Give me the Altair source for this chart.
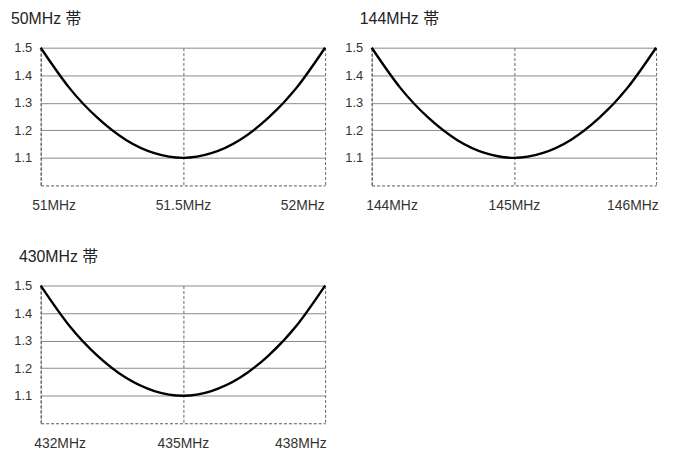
import altair as alt
import pandas as pd

# ---- data ----
freq_50 = [51.0, 51.1, 51.2, 51.3, 51.4, 51.5, 51.6, 51.7, 51.8, 51.9, 52.0]
swr_50 = [1.50, 1.355, 1.245, 1.165, 1.117, 1.10, 1.117, 1.165, 1.245, 1.355, 1.50]

freq_144 = [144.0, 144.2, 144.4, 144.6, 144.8, 145.0, 145.2, 145.4, 145.6, 145.8, 146.0]
swr_144 = [1.50, 1.355, 1.245, 1.165, 1.117, 1.10, 1.117, 1.165, 1.245, 1.355, 1.50]

freq_430 = [432.0, 432.6, 433.2, 433.8, 434.4, 435.0, 435.6, 436.2, 436.8, 437.4, 438.0]
swr_430 = [1.50, 1.355, 1.245, 1.165, 1.117, 1.10, 1.117, 1.165, 1.245, 1.355, 1.50]

titles = ["50MHz 帯", "144MHz 帯", "430MHz 帯"]
x_ticks_50 = [51, 51.5, 52]
x_ticks_144 = [144, 145, 146]
x_ticks_430 = [432, 435, 438]
y_ticks = [1.1, 1.2, 1.3, 1.4, 1.5]

FONT = "Liberation Sans, Arial, Noto Sans CJK JP"


def panel(freqs, swr, xticks, title, title_dx, first_off, last_off):
    df = pd.DataFrame({"f": freqs, "swr": swr})
    x_axis = alt.Axis(
        values=xticks, title=None, ticks=False, grid=True,
        gridColor="#666", gridDash=[3, 2], gridWidth=1,
        domain=True, domainColor="#555", domainDash=[3, 2], domainWidth=1,
        labelExpr="datum.value + 'MHz'", labelFlush=False, labelOverlap=False,
        labelFontSize=14, labelFont=FONT, labelColor="#333", labelPadding=13,
        labelOffset={"condition": [{"test": "datum.index == 0", "value": first_off},
                                   {"test": "datum.index == 1", "value": last_off}],
                     "value": 0},
    )
    y_axis = alt.Axis(
        values=y_ticks, title=None, ticks=False, grid=True,
        gridColor="#8a8a8a", gridWidth=1,
        domain=True, domainColor="#555", domainDash=[3, 2], domainWidth=1,
        format=".1f", labelFontSize=13, labelFont=FONT, labelColor="#333",
        labelPadding=9,
    )
    return alt.Chart(df).mark_line(
        color="black", strokeWidth=2.4, interpolate="natural"
    ).encode(
        x=alt.X("f:Q", scale=alt.Scale(domain=[xticks[0], xticks[-1]], nice=False, zero=False), axis=x_axis),
        y=alt.Y("swr:Q", scale=alt.Scale(domain=[1.0, 1.5], nice=False, zero=False), axis=y_axis),
    ).properties(
        width=287, height=139,
        title=alt.TitleParams(title, anchor="start", frame="group", dx=title_dx,
                              fontSize=16, font=FONT, fontWeight="normal",
                              color="#222", offset=15),
    )


p1 = panel(freq_50, swr_50, x_ticks_50, titles[0], -30, 13, -23)
p2 = panel(freq_144, swr_144, x_ticks_144, titles[1], -12, 20, -24)
p3 = panel(freq_430, swr_430, x_ticks_430, titles[2], -22, 19, -25)

row = alt.hconcat(p1, p2, spacing=47, bounds="flush")
chart = alt.vconcat(row, p3, spacing=37).properties(
    padding={"left": 3, "top": 1, "right": 5, "bottom": 5},
    background="white",
).configure_view(stroke=None)

chart.save("out.html", embed_options={"renderer": "svg", "actions": False})
